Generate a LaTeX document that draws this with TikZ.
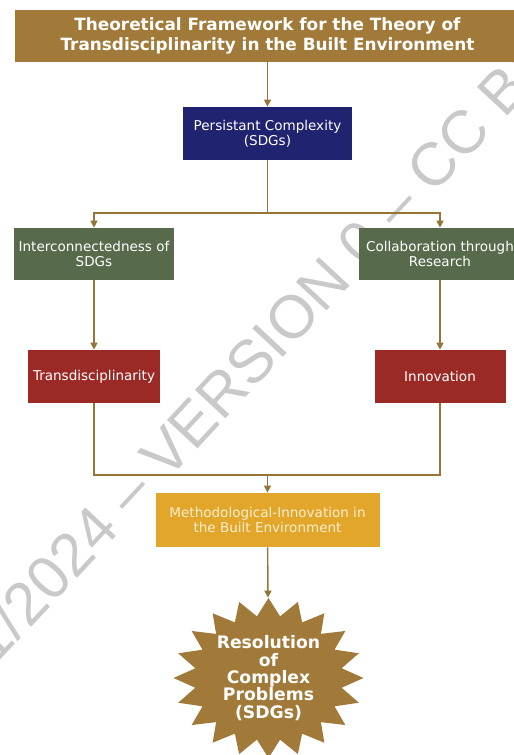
\documentclass[tikz,border=0pt]{standalone}
\usepackage{fontspec}
\setmainfont{DejaVu Sans}
\newfontfamily\wmfont{Liberation Sans}
\usetikzlibrary{arrows.meta}
\definecolor{rahmenbraun}{RGB}{161,122,58}
\definecolor{linienbraun}{RGB}{150,116,56}
\definecolor{nachtblau}{RGB}{32,36,112}
\definecolor{moosgruen}{RGB}{87,107,76}
\definecolor{ziegelrot}{RGB}{155,42,38}
\definecolor{senfgelb}{RGB}{225,166,42}
\definecolor{creme}{RGB}{252,238,205}

\begin{document}
\begin{tikzpicture}[
    kasten/.style={rectangle, inner sep=2pt, align=center, text=white, font=\fontsize{7.7}{8.6}\selectfont, minimum height=1.05cm},
    pfeil/.style={-{Triangle[length=4pt,width=4pt]}, linienbraun, line width=0.8pt},
    linie/.style={linienbraun, line width=0.8pt}
]
    \useasboundingbox (0,0) rectangle (10.28,-15.1);
    \clip (0,0) rectangle (10.28,-15.1);

    % Wasserzeichen
    \node[rotate=47, text=black!21, font=\wmfont\fontsize{34.5}{34.5}\selectfont] (wz) at (5.0,-7.22) {01/2024 – VERSION 0 – CC BY};

    % Titel
    \node[kasten, fill=rahmenbraun, minimum width=10.12cm, minimum height=1.04cm, font=\bfseries\fontsize{9.6}{11.3}\selectfont] (titel) at (5.35,-0.72) {Theoretical Framework for the Theory of\\Transdisciplinarity in the Built Environment};

    % Ausgangspunkt
    \node[kasten, fill=nachtblau, minimum width=3.38cm, minimum height=1.06cm] (komplex) at (5.35,-2.67) {Persistant Complexity\\(SDGs)};

    % Zwei Zweige
    \node[kasten, fill=moosgruen, minimum width=3.2cm, minimum height=1.04cm] (vernetzt) at (1.88,-5.08) {Interconnectedness of\\SDGs};
    \node[kasten, fill=moosgruen, minimum width=3.24cm, minimum height=1.04cm] (kollab) at (8.8,-5.08) {Collaboration through\\Research};
    \node[kasten, fill=ziegelrot, minimum width=2.64cm, minimum height=1.06cm] (transdis) at (1.88,-7.53) {Transdisciplinarity};
    \node[kasten, fill=ziegelrot, minimum width=2.62cm, minimum height=1.06cm] (innov) at (8.8,-7.53) {Innovation};

    % Zusammenfuehrung
    \node[kasten, fill=senfgelb, text=creme, minimum width=4.48cm, minimum height=1.08cm] (methode) at (5.35,-10.4) {Methodological-Innovation in\\the Built Environment};

    % Stern
    \coordinate (sternmitte) at (5.37,-13.56);
    \fill[rahmenbraun, shift={(sternmitte)}] plot[domain=0:39, samples=40] ({1.9*(1-0.22*mod(\x,2))*cos(90+9*\x)}, {1.6*(1-0.22*mod(\x,2))*sin(90+9*\x)}) -- cycle;
    \node[rectangle, minimum width=3.8cm, minimum height=3.2cm, align=center, text=white, font=\bfseries\fontsize{9.8}{9.9}\selectfont] (loesung) at (sternmitte) {Resolution\\of\\Complex\\Problems\\(SDGs)};

    % Verbindungen
    \coordinate (gabel) at (5.35,-4.26);
    \coordinate (sammel) at (5.35,-9.5);
    \draw[pfeil] (titel) -- (komplex);
    \draw[linie] (komplex) -- (gabel);
    \draw[pfeil] (gabel) -| (vernetzt);
    \draw[pfeil] (gabel) -| (kollab);
    \draw[pfeil] (vernetzt) -- (transdis);
    \draw[pfeil] (kollab) -- (innov);
    \draw[linie] (transdis) |- (sammel);
    \draw[linie] (innov) |- (sammel);
    \draw[pfeil] (sammel) -- (methode);
    \draw[pfeil] (methode) -- (loesung);
\end{tikzpicture}
\end{document}
